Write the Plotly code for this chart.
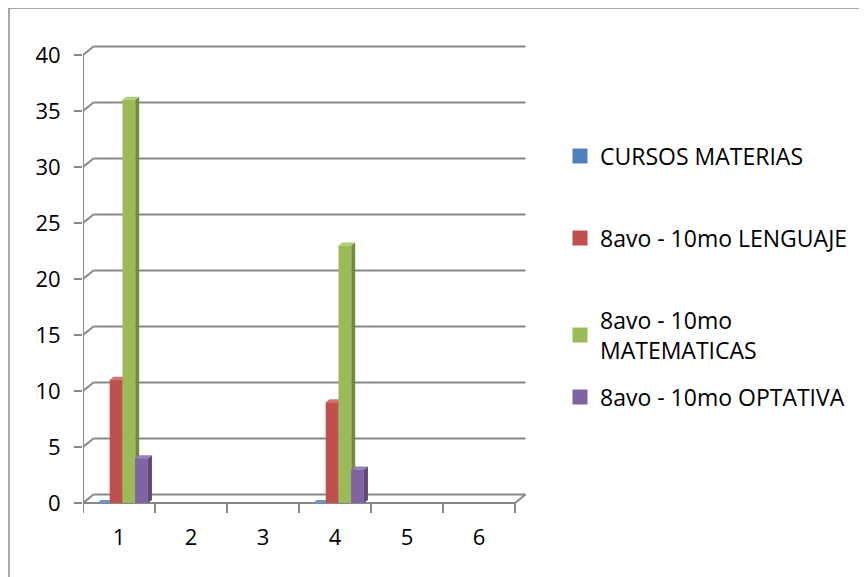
import plotly.graph_objects as go

# ---------------- data ----------------
categories = [1, 2, 3, 4, 5, 6]
series_names = ["CURSOS MATERIAS", "8avo - 10mo LENGUAJE",
                "8avo - 10mo<br>MATEMATICAS", "8avo - 10mo OPTATIVA"]
cursos_materias = [0, None, None, 0, None, None]
lenguaje = [11, None, None, 9, None, None]
matematicas = [36, None, None, 23, None, None]
optativa = [4, None, None, 3, None, None]
y_ticks = [0, 5, 10, 15, 20, 25, 30, 35, 40]
x_tick_labels = ["1", "2", "3", "4", "5", "6"]

# ---------------- styling ----------------
front_colors = ["#4F81BD", "#C0504D", "#9BBB59", "#8064A2"]
side_colors = ["#3A6190", "#8E3A38", "#728A41", "#5E4A78"]
top_colors = ["#6E98CC", "#D0706D", "#B2CC7A", "#9A80BA"]
FONT = "Open Sans"
FS = 22
LEG_FS = 23
GRID = "#878787"

PAGE_OFF = 8  # browser body margin
W, H = 867, 577
L = 83 - PAGE_OFF
T = 40 - PAGE_OFF
PLOT_W = 447
PLOT_BOTTOM = 514 - PAGE_OFF
R = W - L - PLOT_W
B = H - PLOT_BOTTOM
XR = [0.5, 0.5 + PLOT_W / 72.0]
YR = [-11 / 11.2, 40 + 15 / 11.2]
DX, DY = 10.5 / 72.0, 8.5 / 11.2       # back-wall offset
BW, BOFF = 0.177, 0.194                 # bar width, first bar offset from category left
DDX, DDY = 4 / 72.0, 3 / 11.2           # bar depth

all_series = [cursos_materias, lenguaje, matematicas, optativa]

fig = go.Figure()
shapes = []

# back wall gridlines with diagonal connectors
for v in y_ticks:
    shapes.append(dict(type="line", x0=0.5, y0=v, x1=0.5 + DX, y1=v + DY,
                       line=dict(color=GRID, width=2), layer="below"))
    shapes.append(dict(type="line", x0=0.5 + DX, y0=v + DY, x1=6.5 + DX, y1=v + DY,
                       line=dict(color=GRID, width=2), layer="below"))
# left axis line
shapes.append(dict(type="line", x0=0.5, y0=0, x1=0.5, y1=40,
                   line=dict(color=GRID, width=2), layer="below"))
# floor front + right edge
shapes.append(dict(type="line", x0=0.5, y0=0, x1=6.5, y1=0,
                   line=dict(color=GRID, width=2), layer="below"))
shapes.append(dict(type="line", x0=6.5, y0=0, x1=6.5 + DX, y1=DY,
                   line=dict(color=GRID, width=2), layer="below"))
# category boundary tick marks
for i in range(len(categories) + 1):
    bx = 0.5 + i
    shapes.append(dict(type="line", x0=bx, y0=0, x1=bx, y1=-0.9,
                       line=dict(color=GRID, width=2), layer="below"))

# bars + 3D faces
for si, (name, vals) in enumerate(zip(series_names, all_series)):
    off = -0.5 + BOFF + si * BW
    legend_id = "legend" if si == 0 else f"legend{si + 1}"
    fig.add_trace(go.Bar(
        x=categories, y=vals, name=name, width=BW, offset=off,
        marker=dict(color=front_colors[si], line=dict(width=0)),
        legendgroup=name, showlegend=False,
    ))
    # legend entry (square key, as in the original)
    fig.add_trace(go.Scatter(
        x=[None], y=[None], mode="markers", name=name, legendgroup=name,
        marker=dict(symbol="square", size=15, color=front_colors[si],
                    line=dict(width=0)),
        legend=legend_id, showlegend=True, hoverinfo="skip",
    ))
    for c, v in zip(categories, vals):
        if v is None:
            continue
        xl = c + off
        xr = xl + BW
        side = (f"M {xr},0 L {xr + DDX},{DDY} L {xr + DDX},{v + DDY} "
                f"L {xr},{v} Z")
        top = (f"M {xl},{v} L {xl + DDX},{v + DDY} L {xr + DDX},{v + DDY} "
               f"L {xr},{v} Z")
        shapes.append(dict(type="path", path=side, fillcolor=side_colors[si],
                           line=dict(width=0), layer="below"))
        shapes.append(dict(type="path", path=top, fillcolor=top_colors[si],
                           line=dict(width=0), layer="below"))

# page-pixel -> paper coordinates
PH = H - T - B
def px(xp):
    return (xp - PAGE_OFF - L) / PLOT_W
def py(yp):
    return (PLOT_BOTTOM - (yp - PAGE_OFF)) / PH

# outer chart border
shapes.append(dict(type="rect", xref="paper", yref="paper",
                   x0=px(9), x1=px(W + 20), y0=py(H + 20), y1=py(8),
                   line=dict(color="#8A8A8A", width=1.5), layer="below"))

legend_centers = [156, 238, 335, 397]
legend_common = dict(font=dict(family=FONT, size=LEG_FS, color="#000000"),
                     bgcolor="rgba(0,0,0,0)", borderwidth=0,
                     itemsizing="trace",
                     xanchor="left", yanchor="middle", x=px(560))
layout_legends = {}
for i, yc in enumerate(legend_centers):
    key = "legend" if i == 0 else f"legend{i + 1}"
    layout_legends[key] = dict(legend_common, y=py(yc))

fig.update_layout(
    width=W, height=H,
    margin=dict(l=L, r=R, t=T, b=B, pad=0),
    paper_bgcolor="white", plot_bgcolor="white",
    barmode="overlay",
    font=dict(family=FONT, size=FS, color="#000000"),
    shapes=shapes,
    xaxis=dict(range=XR, tickvals=categories, ticktext=x_tick_labels,
               ticks="", showgrid=False, zeroline=False, showline=False,
               ticklabelstandoff=8, fixedrange=True,
               tickfont=dict(family=FONT, size=FS, color="#000000")),
    yaxis=dict(range=YR, tickvals=y_ticks, ticks="outside", ticklen=8,
               tickwidth=2, tickcolor=GRID, showgrid=False, zeroline=False,
               showline=False, ticklabelstandoff=9, fixedrange=True,
               tickfont=dict(family=FONT, size=FS, color="#000000")),
    **layout_legends,
)

fig.write_html("out.html")
